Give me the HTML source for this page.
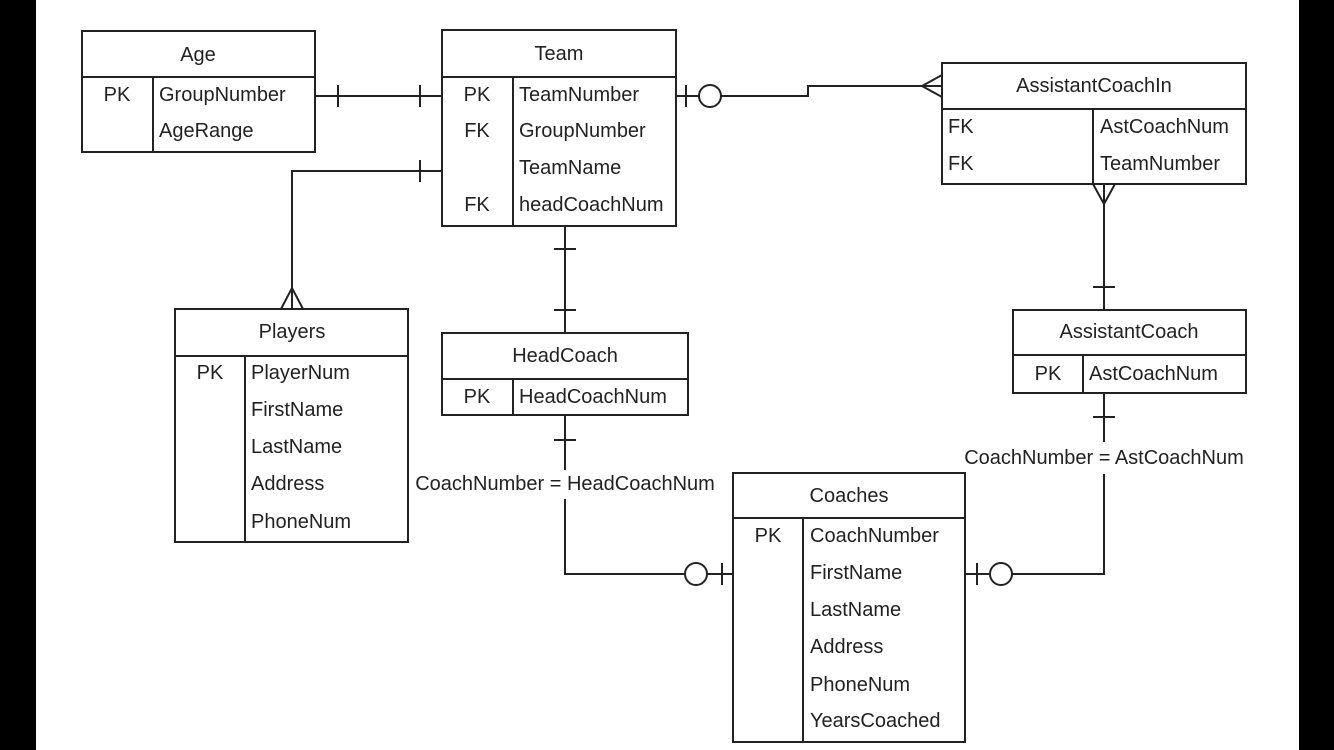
<!DOCTYPE html>
<html><head><meta charset="utf-8"><style>
html,body{margin:0;padding:0;background:#fff;}
svg{display:block}
text{font-family:"Liberation Sans",sans-serif;font-size:20px;fill:#222}
</style></head><body>
<svg width="1334" height="750" viewBox="0 0 1334 750" xmlns="http://www.w3.org/2000/svg">
<rect x="0" y="0" width="36" height="750" fill="#000"/>
<rect x="1299" y="0" width="35" height="750" fill="#000"/>
<g fill="none" stroke="#222" stroke-width="2">
<rect x="82" y="31" width="233" height="121"/>
<line x1="82" y1="77" x2="315" y2="77"/>
<line x1="153" y1="77" x2="153" y2="152"/>
<rect x="442" y="30" width="234" height="196"/>
<line x1="442" y1="77" x2="676" y2="77"/>
<line x1="513" y1="77" x2="513" y2="226"/>
<rect x="942" y="63" width="304" height="121"/>
<line x1="942" y1="109" x2="1246" y2="109"/>
<line x1="1093" y1="109" x2="1093" y2="184"/>
<rect x="175" y="309" width="233" height="233"/>
<line x1="175" y1="356" x2="408" y2="356"/>
<line x1="245" y1="356" x2="245" y2="542"/>
<rect x="442" y="333" width="246" height="82"/>
<line x1="442" y1="379" x2="688" y2="379"/>
<line x1="513" y1="379" x2="513" y2="415"/>
<rect x="1013" y="310" width="233" height="83"/>
<line x1="1013" y1="355" x2="1246" y2="355"/>
<line x1="1083" y1="355" x2="1083" y2="393"/>
<rect x="733" y="473" width="232" height="269"/>
<line x1="733" y1="518" x2="965" y2="518"/>
<line x1="803" y1="518" x2="803" y2="742"/>

<line x1="315" y1="96" x2="442" y2="96"/>
<line x1="338" y1="85" x2="338" y2="107"/>
<line x1="420" y1="85" x2="420" y2="107"/>
<polyline points="442,171 292,171 292,309"/>
<line x1="420" y1="160" x2="420" y2="182"/>
<polyline points="281,309 292,288 303,309"/>
<line x1="565" y1="226" x2="565" y2="333"/>
<line x1="554" y1="249" x2="576" y2="249"/>
<line x1="554" y1="310" x2="576" y2="310"/>
<polyline points="676,96 699,96"/>
<circle cx="710" cy="96" r="11"/>
<polyline points="721,96 808,96 808,86 942,86"/>
<line x1="686" y1="85" x2="686" y2="107"/>
<polyline points="942,75 922,86 942,97"/>
<line x1="1104" y1="184" x2="1104" y2="310"/>
<polyline points="1093,184 1104,204 1115,184"/>
<line x1="1093" y1="287" x2="1115" y2="287"/>
<polyline points="565,415 565,470"/>
<polyline points="565,499 565,574 685,574"/>
<circle cx="696" cy="574" r="11"/>
<line x1="707" y1="574" x2="733" y2="574"/>
<line x1="722" y1="563" x2="722" y2="585"/>
<line x1="554" y1="440" x2="576" y2="440"/>
<polyline points="1104,393 1104,442"/>
<polyline points="1104,474 1104,574 1012,574"/>
<circle cx="1001" cy="574" r="11"/>
<line x1="990" y1="574" x2="965" y2="574"/>
<line x1="977" y1="563" x2="977" y2="585"/>
<line x1="1093" y1="417" x2="1115" y2="417"/>
</g>

<text x="198" y="61" text-anchor="middle">Age</text>
<text x="117" y="101" text-anchor="middle">PK</text>
<text x="159" y="101">GroupNumber</text>
<text x="159" y="137">AgeRange</text>

<text x="559" y="60" text-anchor="middle">Team</text>
<text x="477" y="101" text-anchor="middle">PK</text>
<text x="519" y="101">TeamNumber</text>
<text x="477" y="137" text-anchor="middle">FK</text>
<text x="519" y="137">GroupNumber</text>
<text x="519" y="174">TeamName</text>
<text x="477" y="211" text-anchor="middle">FK</text>
<text x="519" y="211">headCoachNum</text>

<text x="1094" y="92" text-anchor="middle">AssistantCoachIn</text>
<text x="948" y="133">FK</text>
<text x="1100" y="133">AstCoachNum</text>
<text x="948" y="170">FK</text>
<text x="1100" y="170">TeamNumber</text>

<text x="292" y="338" text-anchor="middle">Players</text>
<text x="210" y="379" text-anchor="middle">PK</text>
<text x="251" y="379">PlayerNum</text>
<text x="251" y="416">FirstName</text>
<text x="251" y="453">LastName</text>
<text x="251" y="490">Address</text>
<text x="251" y="528">PhoneNum</text>

<text x="565" y="362" text-anchor="middle">HeadCoach</text>
<text x="477" y="403" text-anchor="middle">PK</text>
<text x="519" y="403">HeadCoachNum</text>

<text x="1129" y="338" text-anchor="middle">AssistantCoach</text>
<text x="1048" y="380" text-anchor="middle">PK</text>
<text x="1089" y="380">AstCoachNum</text>

<text x="849" y="502" text-anchor="middle">Coaches</text>
<text x="768" y="542" text-anchor="middle">PK</text>
<text x="810" y="542">CoachNumber</text>
<text x="810" y="579">FirstName</text>
<text x="810" y="616">LastName</text>
<text x="810" y="653">Address</text>
<text x="810" y="691">PhoneNum</text>
<text x="810" y="727">YearsCoached</text>

<text x="565" y="490" text-anchor="middle">CoachNumber = HeadCoachNum</text>
<text x="1104" y="464" text-anchor="middle">CoachNumber = AstCoachNum</text>
</svg>
</body></html>
